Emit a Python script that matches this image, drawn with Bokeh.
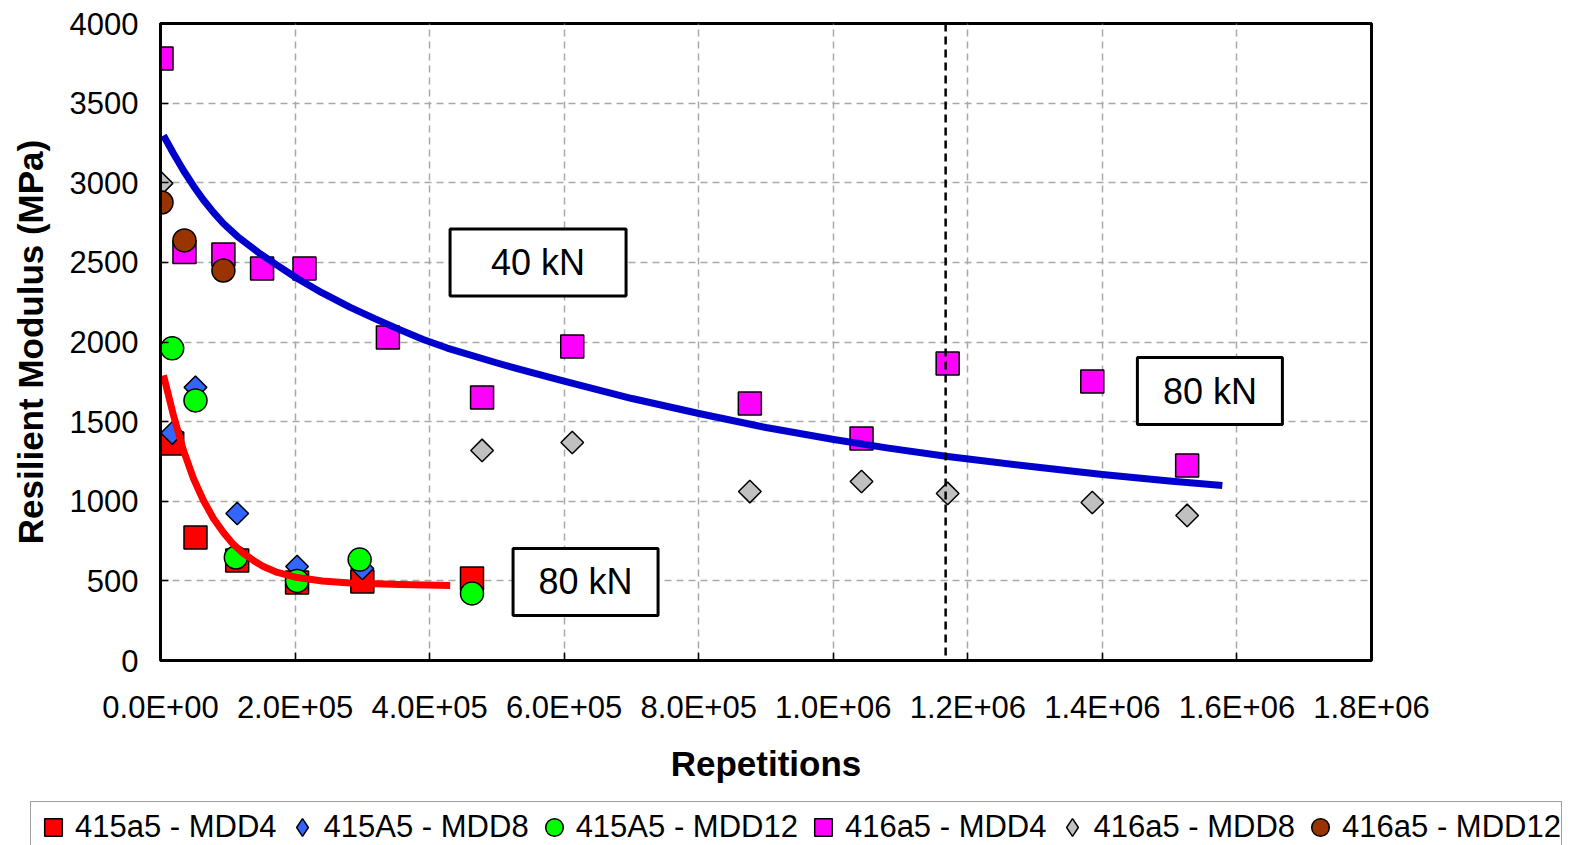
import numpy as np
from bokeh.plotting import figure
from bokeh.layouts import column
from bokeh.models import Span, Label, Legend, LegendItem, FixedTicker
from bokeh.embed import file_html
from bokeh.resources import INLINE

# ---- data ----
rep_415_mdd4 = [17400, 52000, 114000, 203000, 300000, 463000]
mr_415_mdd4 = [1363, 772, 628, 490, 496, 515]

rep_415_mdd8 = [17400, 52000, 114000, 203000, 300000]
mr_415_mdd8 = [1428, 1715, 923, 590, 578]

rep_415_mdd12 = [17400, 52000, 112000, 203000, 296000, 463000]
mr_415_mdd12 = [1960, 1633, 647, 500, 634, 421]

rep_416_mdd4 = [1500, 35600, 93500, 151000, 214000, 338000, 478000, 612000, 876000, 1042000, 1170000, 1385000, 1526000]
mr_416_mdd4 = [3780, 2565, 2550, 2462, 2462, 2028, 1652, 1972, 1614, 1394, 1865, 1752, 1225]

rep_416_mdd8 = [1500, 478000, 612000, 876000, 1042000, 1170000, 1385000, 1526000]
mr_416_mdd8 = [2996, 1319, 1369, 1061, 1124, 1049, 992, 911]

rep_416_mdd12 = [1500, 35600, 93500]
mr_416_mdd12 = [2876, 2638, 2449]

# trend line for the 40 kN data
trend40_rep = [4450, 19300, 34150, 49000, 63850, 78700, 93540, 114300, 148500, 173700, 203400, 240500,
               282100, 319200, 356400, 390500, 426100, 500400, 550900, 601300, 650300, 700800, 800300,
               899800, 1000800, 1079500, 1170000, 1300700, 1400100, 1499600, 1578300]
trend40_mr = [3297, 3184, 3077, 2980, 2892, 2814, 2744, 2663, 2553, 2481, 2399, 2308,
              2217, 2145, 2076, 2016, 1962, 1868, 1809, 1752, 1699, 1645, 1551,
              1463, 1388, 1335, 1281, 1215, 1168, 1127, 1099]

# trend line for the 80 kN data
trend80_rep = [4450, 19300, 34150, 49000, 63850, 78700, 93540, 108400, 123200, 138100, 152900,
               173700, 203400, 240500, 282100, 356400, 430600]
trend80_mr = [1790, 1539, 1319, 1143, 1005, 892, 804, 729, 672, 628, 590,
              553, 521, 499, 487, 477, 471]

marker_line = 1167000

series_labels = ["415a5 - MDD4", "415A5 - MDD8", "415A5 - MDD12",
                 "416a5 - MDD4", "416a5 - MDD8", "416a5 - MDD12"]
series_colors = ["#FF0000", "#3366FF", "#00FF00", "#FF00FF", "#C0C0C0", "#993300"]
legend_markers = ["square", "diamond", "circle", "square", "diamond", "circle"]

x_ticks = [0, 200000, 400000, 600000, 800000, 1000000, 1200000, 1400000, 1600000, 1800000]
x_tick_labels = ["0.0E+00", "2.0E+05", "4.0E+05", "6.0E+05", "8.0E+05",
                 "1.0E+06", "1.2E+06", "1.4E+06", "1.6E+06", "1.8E+06"]
y_ticks = [0, 500, 1000, 1500, 2000, 2500, 3000, 3500, 4000]

box_texts = ["40 kN", "80 kN", "80 kN"]
box_x = [561200, 631800, 1559800]
box_y = [2500, 493, 1692]
box_w = [176, 145, 145]

FONT = "Liberation Sans"

p = figure(width=1570, height=795, x_range=(0, 1800000), y_range=(0, 4000),
           output_backend="svg", toolbar_location=None, frame_align=False,
           min_border_left=160, min_border_right=199, min_border_top=23, min_border_bottom=135)

p.outline_line_color = "black"
p.outline_line_width = 3
p.outline_line_alpha = 1

for ax in (p.xaxis[0], p.yaxis[0]):
    ax.axis_line_color = "black"
    ax.axis_line_width = 3
    ax.major_tick_in = 8
    ax.major_tick_out = 0
    ax.major_tick_line_color = "black"
    ax.major_tick_line_width = 1.5
    ax.minor_tick_line_color = None
    ax.major_label_text_font = FONT
    ax.major_label_text_font_size = "31px"
    ax.major_label_text_color = "black"
    ax.axis_label_text_font = FONT
    ax.axis_label_text_font_size = "35px"
    ax.axis_label_text_font_style = "bold"
    ax.axis_label_text_color = "black"

p.xaxis.ticker = FixedTicker(ticks=x_ticks)
p.xaxis.major_label_overrides = {t: l for t, l in zip(x_ticks, x_tick_labels)}
p.yaxis.ticker = FixedTicker(ticks=y_ticks)
p.xaxis.axis_label = "Repetitions"
p.yaxis.axis_label = "Resilient Modulus (MPa)"
p.xaxis.major_label_standoff = 29
p.xaxis.axis_label_standoff = 16
p.yaxis.major_label_standoff = 22
p.yaxis.axis_label_standoff = 17

for g in (p.xgrid[0], p.ygrid[0]):
    g.grid_line_color = "#A8A8A8"
    g.grid_line_width = 1.5
    g.grid_line_dash = "7 5"

OUT = dict(line_color="black", line_width=1.5)
all_reps = [rep_415_mdd4, rep_415_mdd8, rep_415_mdd12, rep_416_mdd4, rep_416_mdd8, rep_416_mdd12]
all_mrs = [mr_415_mdd4, mr_415_mdd8, mr_415_mdd12, mr_416_mdd4, mr_416_mdd8, mr_416_mdd12]
plot_markers = ["square", "square", "circle", "square", "square", "circle"]
plot_angles = [0, np.pi / 4, 0, 0, np.pi / 4, 0]
plot_sizes = [23, 16, 23, 23, 16, 23]

for xs, ys, mk, ang, sz, col in zip(all_reps, all_mrs, plot_markers, plot_angles, plot_sizes, series_colors):
    p.scatter(xs, ys, marker=mk, angle=ang, size=sz, fill_color=col, **OUT)

p.line(trend40_rep, trend40_mr, line_color="#0000CC", line_width=7, line_join="round")
p.line(trend80_rep, trend80_mr, line_color="#FF0000", line_width=7, line_join="round")

p.add_layout(Span(location=marker_line, dimension="height", line_color="black",
                  line_width=2.5, line_dash="8 5"))

p.rect(box_x, box_y, width=box_w, height=67, width_units="screen", height_units="screen",
       fill_color="white", line_color="black", line_width=3)
for t, x, y in zip(box_texts, box_x, box_y):
    p.add_layout(Label(x=x, y=y, text=t, text_align="center", text_baseline="middle",
                       text_font=FONT, text_font_size="36px", text_color="black"))

# ---- legend strip below the chart ----
q = figure(width=1570, height=50, x_range=(0, 1), y_range=(0, 1),
           output_backend="svg", toolbar_location=None, frame_align=False,
           min_border_left=0, min_border_right=0, min_border_top=0, min_border_bottom=0)
q.axis.visible = False
q.grid.visible = False
q.outline_line_color = None

items = []
for lab, col, mk, xs, ys in zip(series_labels, series_colors, legend_markers, all_reps, all_mrs):
    # proxy renderer (its point lies outside this strip's range, so only the legend shows it)
    r = q.scatter(xs[:1], ys[:1], marker=mk, size=16, fill_color=col, **OUT)
    items.append(LegendItem(label=lab, renderers=[r]))

legend = Legend(items=items, orientation="horizontal", location=(30, -8),
                glyph_width=44, glyph_height=50, label_standoff=0, spacing=3,
                padding=0, margin=0, border_line_color="#404040", border_line_width=1.5,
                label_text_font=FONT, label_text_font_size="31px", label_text_color="black",
                background_fill_color="white", background_fill_alpha=1)
q.add_layout(legend)

open("out.html", "w").write(file_html(column(p, q, spacing=0), INLINE))
